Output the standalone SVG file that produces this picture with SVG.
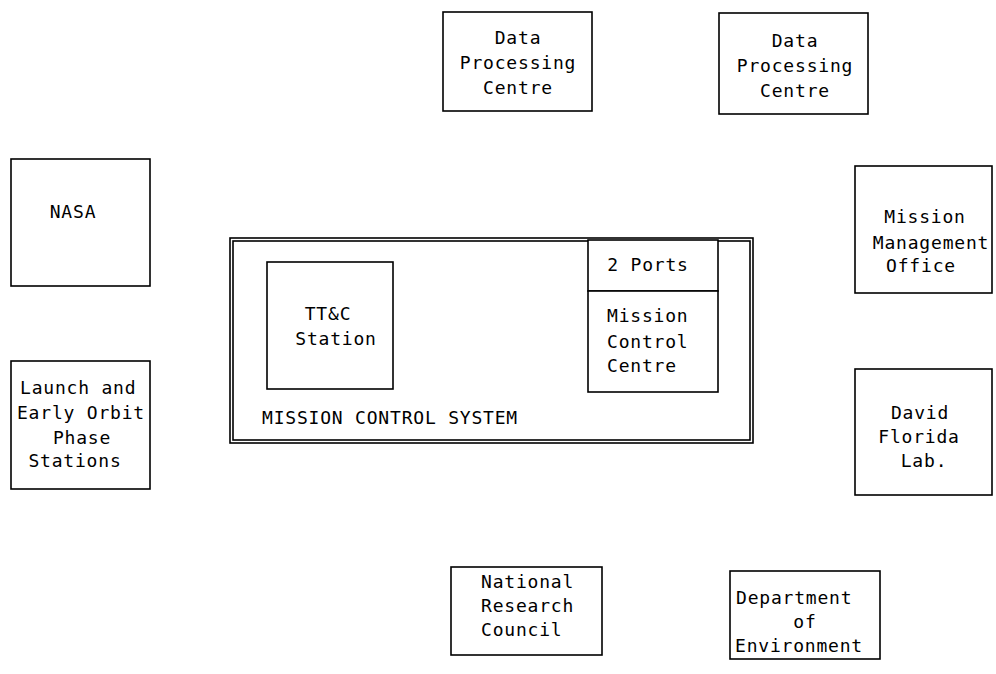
<svg xmlns="http://www.w3.org/2000/svg" width="996" height="674" viewBox="0 0 996 674">
<style>
.b{fill:#fff;stroke:#000;stroke-width:1.6}
.t{font-family:"DejaVu Sans Mono","Liberation Mono",monospace;font-size:18px;letter-spacing:0.8px;fill:#000;text-anchor:middle}
.l{text-anchor:start}
</style>
<rect width="996" height="674" fill="#fff"/>
<g id="dpc1"><rect class="b" x="443" y="12" width="149" height="99"/>
<text class="t" x="518" y="44">Data</text><text class="t" x="518" y="69">Processing</text><text class="t" x="518" y="94">Centre</text></g>
<g id="dpc2"><rect class="b" x="719" y="13" width="149" height="101"/>
<text class="t" x="795" y="47">Data</text><text class="t" x="795" y="72">Processing</text><text class="t" x="795" y="97">Centre</text></g>
<g id="nasa"><rect class="b" x="11" y="159" width="139" height="127"/>
<text class="t" x="73" y="218">NASA</text></g>
<g id="leop"><rect class="b" x="11" y="361" width="139" height="128"/>
<text class="t l" x="20" y="394">Launch and</text><text class="t" x="81" y="419">Early Orbit</text><text class="t" x="82" y="444">Phase</text><text class="t" x="75" y="467">Stations</text></g>
<g id="mcs"><rect class="b" x="230" y="238" width="523" height="205"/>
<rect class="b" x="233" y="241" width="517" height="199" fill="none"/>
<text class="t l" x="262" y="424">MISSION CONTROL SYSTEM</text></g>
<g id="ttc"><rect class="b" x="267" y="262" width="126" height="127"/>
<text class="t" x="328" y="320">TT&amp;C</text><text class="t" x="336" y="345">Station</text></g>
<g id="ports"><rect class="b" x="588" y="240" width="130" height="51"/>
<text class="t" x="648" y="271">2 Ports</text></g>
<g id="mcc"><rect class="b" x="588" y="291" width="130" height="101"/>
<text class="t l" x="607" y="322">Mission</text><text class="t l" x="607" y="348">Control</text><text class="t l" x="607" y="372">Centre</text></g>
<g id="mmo"><rect class="b" x="855" y="166" width="137" height="127"/>
<text class="t" x="925" y="223">Mission</text><text class="t" x="931" y="249">Management</text><text class="t" x="921" y="272">Office</text></g>
<g id="dfl"><rect class="b" x="855" y="369" width="137" height="126"/>
<text class="t" x="920" y="419">David</text><text class="t" x="919" y="443">Florida</text><text class="t" x="924" y="467">Lab.</text></g>
<g id="nrc"><rect class="b" x="451" y="567" width="151" height="88"/>
<text class="t l" x="481" y="588">National</text><text class="t l" x="481" y="612">Research</text><text class="t l" x="481" y="636">Council</text></g>
<g id="doe"><rect class="b" x="730" y="571" width="150" height="88"/>
<text class="t l" x="736" y="604">Department</text><text class="t" x="805" y="628">of</text><text class="t l" x="735" y="652">Environment</text></g>
<g id="connectors"></g>
</svg>
